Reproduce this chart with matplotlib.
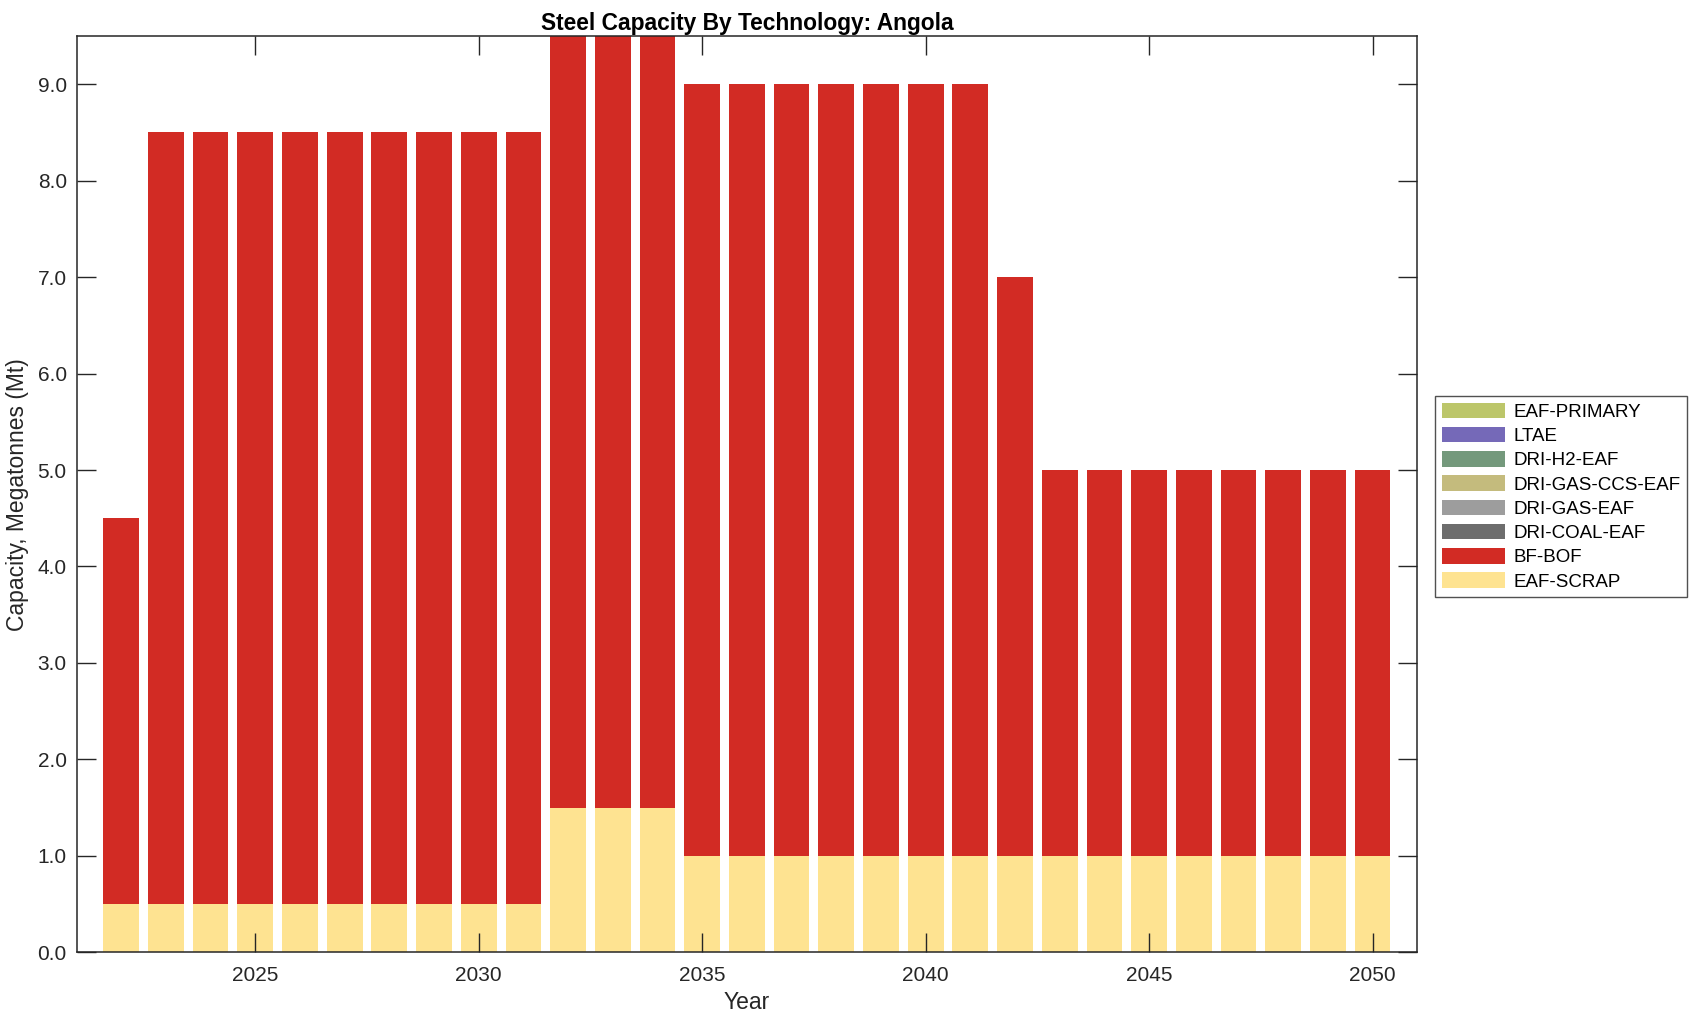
import numpy as np
import matplotlib
matplotlib.use("Agg")
import matplotlib.pyplot as plt
from matplotlib.patches import Patch

plt.rcParams['font.family'] = ['Liberation Sans', 'DejaVu Sans']

# ----------------------------
# データ
# ----------------------------
years = list(range(2022, 2051))

eaf_scrap = [0.5] * 10 + [1.5] * 3 + [1.0] * 16
bf_bof = [4.0] + [8.0] * 9 + [8.0] * 3 + [8.0] * 7 + [6.0] + [4.0] * 8

tech_names = ["EAF-PRIMARY", "LTAE", "DRI-H2-EAF", "DRI-GAS-CCS-EAF",
              "DRI-GAS-EAF", "DRI-COAL-EAF", "BF-BOF", "EAF-SCRAP"]
tech_colors = ["#bcc66a", "#7569b8", "#74997c", "#c4bb7d",
               "#9d9d9d", "#6d6d6d", "#d22b24", "#fee391"]

# ----------------------------
# 描画
# ----------------------------
fig = plt.figure(figsize=(16.96, 10.21), dpi=100)
# 軸の位置（参照画像に合わせる）
ax = fig.add_axes([76.5 / 1696, 1 - 952.3 / 1021,
                   (1417.3 - 76.5) / 1696, (952.3 - 36.0) / 1021])

width = 0.8
ax.bar(years, eaf_scrap, width=width, color=tech_colors[7])
ax.bar(years, bf_bof, width=width, bottom=eaf_scrap, color=tech_colors[6])

ax.set_xlim(2021.0, 2051.0)
ax.set_ylim(0, 9.5)
ax.set_xticks([2025, 2030, 2035, 2040, 2045, 2050])
yt = np.arange(0, 9.01, 1.0)
ax.set_yticks(yt)
ax.set_yticklabels([f"{v:.1f}" for v in yt])

ax.tick_params(direction="in", length=13.5, width=1, top=True, right=True,
               labelsize=15, colors="#262626")
ax.tick_params(axis="x", pad=10)
ax.tick_params(axis="y", pad=7)
for s in ax.spines.values():
    s.set_linewidth(1.1)
    s.set_color("#262626")

ax.set_title("Steel Capacity By Technology: Angola", fontsize=16.4,
             fontweight="bold", pad=4)
ax.set_xlabel("Year", fontsize=16.5, color="#262626", labelpad=4)
ax.set_ylabel("Capacity, Megatonnes (Mt)", fontsize=16.5, color="#262626",
              labelpad=6)

handles = [Patch(facecolor=c, edgecolor="none") for c in tech_colors]
leg = fig.legend(handles, tech_names, loc="upper left",
                 bbox_to_anchor=(1435 / 1696, 1 - 396 / 1021), fontsize=13.5,
                 frameon=True, fancybox=False, edgecolor="#262626",
                 handlelength=3.4, handleheight=0.9, labelspacing=0.32,
                 borderpad=0.35, handletextpad=0.45, borderaxespad=0)
leg.get_frame().set_linewidth(1.0)

fig.savefig("out.png", dpi=100)
